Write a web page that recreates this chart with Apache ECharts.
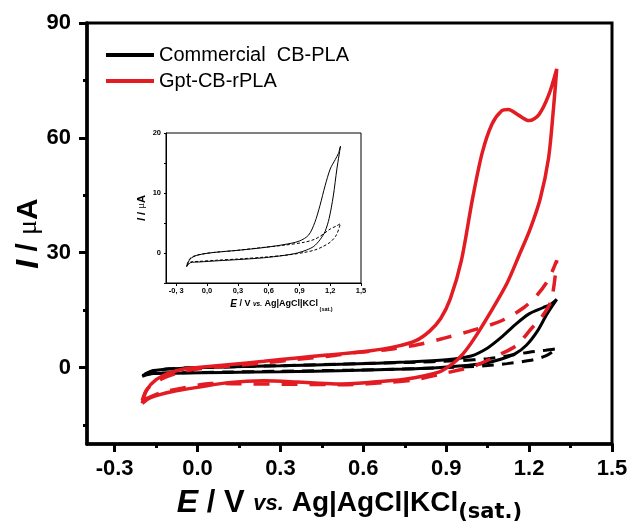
<!DOCTYPE html>
<html>
<head>
<meta charset="utf-8">
<script src="https://cdn.jsdelivr.net/npm/echarts@6/dist/echarts.min.js"></script>
<style>
  html, body { margin: 0; padding: 0; background: #fff; }
  #chart { width: 630px; height: 523px; }
</style>
</head>
<body>
<div id="chart"></div>
<script>
// ticks
var xMajor = [-0.3, 0, 0.3, 0.6, 0.9, 1.2, 1.5];
var xMinor = [-0.15, 0.15, 0.45, 0.75, 1.05, 1.35];
var yMajor = [0, 30, 60, 90];
var yMinor = [-15, 15, 45, 75];
var insetXLabels = ['-0, 3', '0,0', '0,3', '0,6', '0,9', '1,2', '1,5'];

// [E (V), I (uA)], loop order
var gptSolid = [[-0.2,-9.4],[-0.185,-6],[-0.15,-3.2],[-0.1,-1.4],[-0.05,-0.4],[0,0],[0.12,0.8],[0.24,1.6],[0.36,2.5],[0.48,3.3],
  [0.62,4.3],[0.72,5.5],[0.79,7],[0.84,9.5],[0.88,12.8],[0.915,18],[0.955,28],[0.995,44],[1.03,56],[1.065,63.5],[1.1,67],
  [1.125,67.4],[1.16,66],[1.2,64.5],[1.235,66],[1.27,71],[1.3,78],[1.288,67.5],[1.27,54.5],[1.24,44],[1.203,36],[1.165,29.5],
  [1.12,22],[1.06,14.4],[1.0,7.4],[0.96,3.5],[0.92,0.8],[0.87,-1.3],[0.75,-3.1],[0.62,-3.9],[0.5,-4.3],[0.36,-3.8],[0.24,-3.5],
  [0.12,-3.9],[0,-5.2],[-0.09,-6.3],[-0.17,-7.9],[-0.2,-9.4]];
var gptDashed = [[-0.2,-8.6],[-0.18,-5.5],[-0.13,-3],[-0.06,-1.2],[0,-0.4],[0.12,0.4],[0.24,1.2],[0.36,2.1],[0.48,3],[0.56,3.8],
  [0.69,4.7],[0.8,6],[0.9,7.8],[1.0,9.8],[1.1,12.2],[1.18,15.6],[1.23,19],[1.27,23],[1.3,28],[1.28,17.5],[1.24,12.6],[1.21,10.3],
  [1.155,5.8],[1.1,3.6],[1.0,0.3],[0.95,-0.6],[0.84,-2.4],[0.78,-3.3],[0.69,-3.9],[0.54,-4.5],[0.36,-4.4],[0.2,-4.3],[0.05,-4.2],
  [-0.06,-5.5],[-0.13,-6.5],[-0.2,-8.6]];
var cbSolid = [[-0.2,-2.3],[-0.16,-1.6],[-0.08,-1.5],[0.1,-1.3],[0.3,-1.1],[0.55,-0.8],[0.75,-0.4],[0.88,0],[0.97,0.5],[1.04,1.1],
  [1.1,2.2],[1.15,3.6],[1.19,5.8],[1.23,9.5],[1.265,14],[1.3,17.8],[1.28,16.6],[1.25,15.6],[1.2,14],[1.15,11.2],[1.1,7.9],
  [1.05,5.1],[0.99,3.0],[0.9,2.0],[0.75,1.4],[0.55,0.9],[0.3,0.45],[0.1,0.15],[0,-0.05],[-0.1,-0.4],[-0.165,-1],[-0.2,-2.3]];
var cbDashed = [[-0.2,-2.1],[-0.16,-1.5],[-0.08,-1.4],[0.1,-1.2],[0.3,-1.0],[0.55,-0.7],[0.8,-0.3],[0.95,0.1],[1.05,0.5],[1.12,1.0],
  [1.2,1.8],[1.26,3.0],[1.3,4.9],[1.26,4.5],[1.2,4.0],[1.12,3.0],[1.05,2.3],[0.95,1.8],[0.75,1.3],[0.5,0.85],[0.3,0.45],[0.1,0.15],
  [0,-0.05],[-0.1,-0.35],[-0.165,-0.9],[-0.2,-2.1]];

var RED = '#e31b23';
var FONT = 'Liberation Sans';

var chart = echarts.init(document.getElementById('chart'));

function curve(name, data, color, width, dash, xi, yi) {
  return {
    name: name,
    type: 'line',
    xAxisIndex: xi,
    yAxisIndex: yi,
    data: data,
    smooth: 0.3,
    symbol: 'none',
    color: color,
    lineStyle: { color: color, width: width, type: dash || 'solid' },
    silent: true,
    animation: false
  };
}

var option = {
  animation: false,
  textStyle: { fontFamily: FONT },
  grid: [
    { left: 87, top: 23, width: 525, height: 421, outerBoundsMode: 'none', containLabel: false,
      show: true, borderColor: '#000', borderWidth: 3 },
    { left: 166, top: 133, width: 195, height: 150, outerBoundsMode: 'none', containLabel: false,
      show: true, borderColor: '#000', borderWidth: 1, backgroundColor: '#fff' }
  ],
  legend: {
    data: ['Commercial  CB-PLA', 'Gpt-CB-rPLA'],
    orient: 'vertical',
    left: 106,
    top: 45,
    padding: 0,
    icon: 'rect',
    itemWidth: 48,
    itemHeight: 4,
    itemGap: 6,
    selectedMode: false,
    textStyle: { fontFamily: FONT, fontSize: 20, color: '#000' }
  },
  xAxis: [
    {
      gridIndex: 0, type: 'value', min: -0.4, max: 1.5,
      axisLine: { onZero: false, lineStyle: { color: '#000', width: 3.5 } },
      axisTick: { customValues: xMajor, length: 8, lineStyle: { width: 3, color: '#000' } },
      axisLabel: { customValues: xMajor, margin: 14, fontSize: 22, fontWeight: 'bold', color: '#000', fontFamily: FONT,
        formatter: function (v) { return v.toFixed(1); } },
      splitLine: { show: false },
      name: '{e|E}{b| / V }{vs|vs.}{m| Ag|AgCl|KCl}{sub|(sat.)}',
      nameLocation: 'middle',
      nameGap: 40,
      nameMoveOverlap: false,
      nameTextStyle: {
        rich: {
          e: { fontSize: 32, fontWeight: 'bold', fontStyle: 'italic', fontFamily: FONT, color: '#000' },
          b: { fontSize: 31, fontWeight: 'bold', fontFamily: FONT, color: '#000' },
          vs: { fontSize: 22, fontWeight: 'bold', fontStyle: 'italic', fontFamily: FONT, color: '#000' },
          m: { fontSize: 28, fontWeight: 'bold', fontFamily: FONT, color: '#000' },
          sub: { fontSize: 21, fontWeight: 'bold', fontFamily: 'DejaVu Sans', color: '#000', padding: [18, 0, 0, 0] }
        }
      }
    },
    {
      gridIndex: 0, type: 'value', min: -0.4, max: 1.5, position: 'bottom',
      axisLine: { show: false, onZero: false },
      axisTick: { customValues: xMinor, length: 4, lineStyle: { width: 3, color: '#000' } },
      axisLabel: { show: false },
      splitLine: { show: false }
    },
    {
      gridIndex: 1, type: 'value', min: -0.4, max: 1.5,
      axisLine: { onZero: false, lineStyle: { color: '#000', width: 1 } },
      axisTick: { customValues: xMajor, length: 3, lineStyle: { width: 1, color: '#000' } },
      axisLabel: { customValues: xMajor, margin: 4, fontSize: 7.5, fontWeight: 'bold', color: '#000', fontFamily: FONT,
        formatter: function (v) { return insetXLabels[xMajor.indexOf(Math.round(v * 100) / 100)]; } },
      splitLine: { show: false },
      name: '{e|E}{b| / V }{vs|vs.}{b| Ag|AgCl|KCl}{sub| (sat.)}',
      nameLocation: 'middle',
      nameGap: 13,
      nameTextStyle: {
        padding: [0, 0, 0, 36],
        rich: {
          e: { fontSize: 10, fontWeight: 'bold', fontStyle: 'italic', fontFamily: FONT, color: '#000' },
          b: { fontSize: 9, fontWeight: 'bold', fontFamily: FONT, color: '#000' },
          vs: { fontSize: 6.5, fontWeight: 'bold', fontStyle: 'italic', fontFamily: FONT, color: '#000' },
          sub: { fontSize: 5.5, fontWeight: 'bold', fontFamily: FONT, color: '#000', padding: [10, 0, 0, 0] }
        }
      }
    }
  ],
  yAxis: [
    {
      gridIndex: 0, type: 'value', min: -20, max: 90,
      axisLine: { onZero: false, lineStyle: { color: '#000', width: 3.5 } },
      axisTick: { customValues: yMajor, length: 8, lineStyle: { width: 3, color: '#000' } },
      axisLabel: { customValues: yMajor, margin: 16, fontSize: 22, fontWeight: 'bold', color: '#000', fontFamily: FONT },
      splitLine: { show: false },
      name: '{i|I}{b| / }{mu|μ}{b|A}',
      nameLocation: 'middle',
      nameGap: 42,
      nameMoveOverlap: false,
      nameTextStyle: {
        rich: {
          i: { fontSize: 32, fontWeight: 'bold', fontStyle: 'italic', fontFamily: FONT, color: '#000' },
          b: { fontSize: 30, fontWeight: 'bold', fontFamily: FONT, color: '#000' },
          mu: { fontSize: 28, fontFamily: 'Liberation Serif', color: '#000' }
        }
      }
    },
    {
      gridIndex: 0, type: 'value', min: -20, max: 90, position: 'left',
      axisLine: { show: false, onZero: false },
      axisTick: { customValues: yMinor, length: 4, lineStyle: { width: 3, color: '#000' } },
      axisLabel: { show: false },
      splitLine: { show: false }
    },
    {
      gridIndex: 1, type: 'value', min: -5, max: 20, interval: 5,
      axisLine: { onZero: false, lineStyle: { color: '#000', width: 1 } },
      axisTick: { length: 2, lineStyle: { width: 1, color: '#000' } },
      axisLabel: { margin: 5, fontSize: 7.5, fontWeight: 'bold', color: '#000', fontFamily: FONT,
        formatter: function (v) { return v % 10 === 0 ? String(v) : ''; } },
      splitLine: { show: false },
      name: '{i|I}{b| / }{mu|μ}{b|A}',
      nameLocation: 'middle',
      nameGap: 19,
      nameTextStyle: {
        rich: {
          i: { fontSize: 11, fontWeight: 'bold', fontStyle: 'italic', fontFamily: FONT, color: '#000' },
          b: { fontSize: 11, fontWeight: 'bold', fontFamily: FONT, color: '#000' },
          mu: { fontSize: 11, fontFamily: 'Liberation Serif', color: '#000' }
        }
      }
    }
  ],
  series: [
    curve('Commercial  CB-PLA', cbSolid, '#000', 3, null, 0, 0),
    curve('cb dashed', cbDashed, '#000', 3, [12, 8], 0, 0),
    curve('Gpt-CB-rPLA', gptSolid, RED, 3.5, null, 0, 0),
    curve('gpt dashed', gptDashed, RED, 3.5, [16, 12], 0, 0),
    curve('inset solid', cbSolid, '#000', 1, null, 2, 2),
    curve('inset dashed', cbDashed, '#000', 1, [3, 2], 2, 2)
  ]
};

chart.setOption(option);
</script>
</body>
</html>
